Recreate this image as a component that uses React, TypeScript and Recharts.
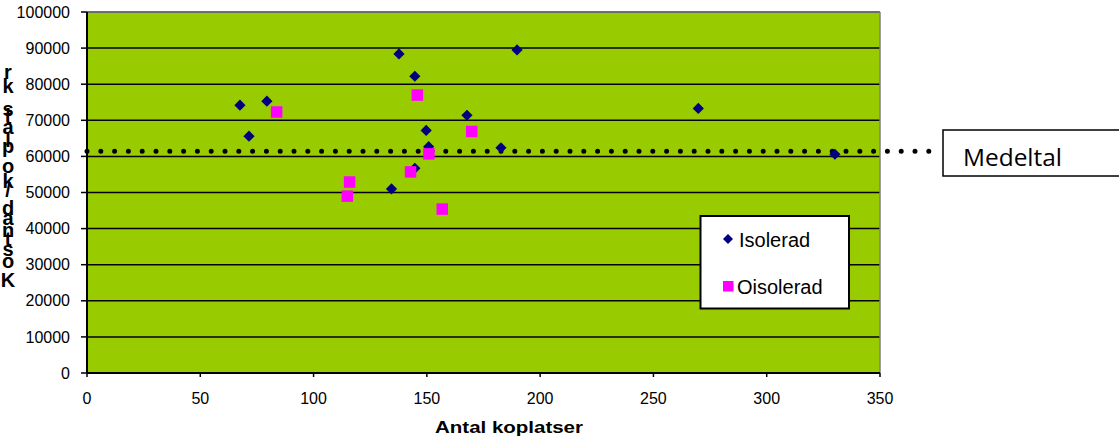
import React from "react";
import {
  ScatterChart,
  Scatter,
  XAxis,
  YAxis,
  CartesianGrid,
  ReferenceLine,
  Customized,
} from "recharts";

const xTicks = [0, 50, 100, 150, 200, 250, 300, 350];
const yTicks = [0, 10000, 20000, 30000, 40000, 50000, 60000, 70000, 80000, 90000, 100000];

const seriesNames = ["Isolerad", "Oisolerad"];
const seriesColors = ["#000080", "#FF00FF"];

const isoleradX = [67.5, 71.5, 79.4, 134.4, 137.7, 144.7, 149.7, 150.8, 144.7, 167.7, 182.7, 189.8, 269.8, 330.1];
const isoleradY = [74200, 65600, 75300, 51000, 88400, 82200, 67200, 62700, 56700, 71400, 62400, 89500, 73300, 60600];

const oisoleradX = [83.7, 145.8, 169.8, 150.9, 142.8, 115.9, 114.9, 156.8];
const oisoleradY = [72300, 77000, 66900, 60700, 55700, 52900, 49000, 45400];

const meanValue = 61400;
const meanLabel = "Medeltal";
const xTitle = "Antal koplatser";
const yTitle = "Kostnad/koplats, kr";

const isoData = isoleradX.map((x, i) => ({ x, y: isoleradY[i] }));
const oisoData = oisoleradX.map((x, i) => ({ x, y: oisoleradY[i] }));

const FONT = "'Liberation Sans', Arial, sans-serif";

const Diamond = (props: any) => {
  const { cx, cy } = props;
  const r = 5.6;
  return (
    <polygon
      points={`${cx},${cy - r} ${cx + r},${cy} ${cx},${cy + r} ${cx - r},${cy}`}
      fill={seriesColors[0]}
    />
  );
};

const Square = (props: any) => {
  const { cx, cy } = props;
  const s = 11.5;
  return <rect x={cx - s / 2} y={cy - s / 2} width={s} height={s} fill={seriesColors[1]} />;
};

// vertical stacked y-axis title: characters from top to bottom (text reads bottom-up)
const yCharCenters = [72, 86, 97, 104, 109, 117, 127, 140, 146, 166, 181, 190, 208, 218, 230, 239, 249, 261, 280];

const YTitle = () => {
  const chars = yTitle.split("").reverse();
  return (
    <g>
      {chars.map((c, i) =>
        c === " " ? null : (
          <text
            key={i}
            x={8}
            y={yCharCenters[i]}
            textAnchor="middle"
            dominantBaseline="central"
            fontFamily={FONT}
            fontWeight="bold"
            fontSize={20}
            fill="#000"
          >
            {c}
          </text>
        )
      )}
    </g>
  );
};

const XTitle = () => (
  <text
    x={435}
    y={433}
    fontFamily={FONT}
    fontWeight="bold"
    fontSize={16}
    fill="#000"
    textLength={148}
    lengthAdjust="spacingAndGlyphs"
  >
    {xTitle}
  </text>
);

const Overlay = () => (
  <g>
    {/* legend */}
    <rect x={700.5} y={216} width={148.5} height={92.5} fill="#fff" stroke="#000" strokeWidth={2} />
    <polygon points="728,234 733,239 728,244 723,239" fill={seriesColors[0]} />
    <text x={739} y={247} fontFamily={FONT} fontSize={20} fill="#000">
      {seriesNames[0]}
    </text>
    <rect x={723} y={281} width={10.5} height={10.5} fill={seriesColors[1]} />
    <text x={737} y={294} fontFamily={FONT} fontSize={20} fill="#000">
      {seriesNames[1]}
    </text>
    {/* mean label box */}
    <rect x={943} y={130} width={200} height={46} fill="#fff" stroke="#000" strokeWidth={1.5} />
    <text
      x={963}
      y={166}
      fontFamily="'Open Sans', sans-serif"
      fontSize={23}
      fill="#000"
      textLength={99}
      lengthAdjust="spacingAndGlyphs"
    >
      {meanLabel}
    </text>
  </g>
);

export default function App() {
  return (
    <div style={{ position: "absolute", left: 0, top: 0, width: 1119, height: 440, background: "#fff", fontFamily: FONT }}>
      <ScatterChart width={1119} height={440} margin={{ top: 12, right: 239, bottom: 0, left: 0 }}>
        <CartesianGrid vertical={false} stroke="#000" strokeWidth={1.5} fill="#99CC00" fillOpacity={1} />
        <XAxis
          type="number"
          dataKey="x"
          domain={[0, 350]}
          ticks={xTicks}
          interval={0}
          height={67}
          tickSize={4}
          tickMargin={16}
          axisLine={{ stroke: "#000", strokeWidth: 2 }}
          tickLine={{ stroke: "#000", strokeWidth: 1.5 }}
          tick={{ fill: "#000", fontSize: 16, fontFamily: FONT }}
          label={{ content: () => <XTitle /> }}
        />
        <YAxis
          type="number"
          dataKey="y"
          domain={[0, 100000]}
          ticks={yTicks}
          interval={0}
          width={87}
          tickSize={6}
          tickMargin={11}
          axisLine={{ stroke: "#000", strokeWidth: 2 }}
          tickLine={{ stroke: "#000", strokeWidth: 1.5 }}
          tick={{ fill: "#000", fontSize: 16, fontFamily: FONT }}
          label={{ content: () => <YTitle /> }}
        />
        <ReferenceLine y={100000} stroke="#808080" strokeWidth={1.5} />
        <ReferenceLine x={350} stroke="#808080" strokeWidth={1.5} />
        <Scatter name={seriesNames[0]} data={isoData} shape={<Diamond />} isAnimationActive={false} />
        <Scatter name={seriesNames[1]} data={oisoData} shape={<Square />} isAnimationActive={false} />
        <ReferenceLine
          segment={[
            { x: 0, y: meanValue },
            { x: 376.9, y: meanValue },
          ]}
          ifOverflow="visible"
          stroke="#000"
          strokeWidth={5}
          strokeDasharray="0 13.8"
          strokeLinecap="round"
        />
        <Customized component={Overlay} />
      </ScatterChart>
    </div>
  );
}
